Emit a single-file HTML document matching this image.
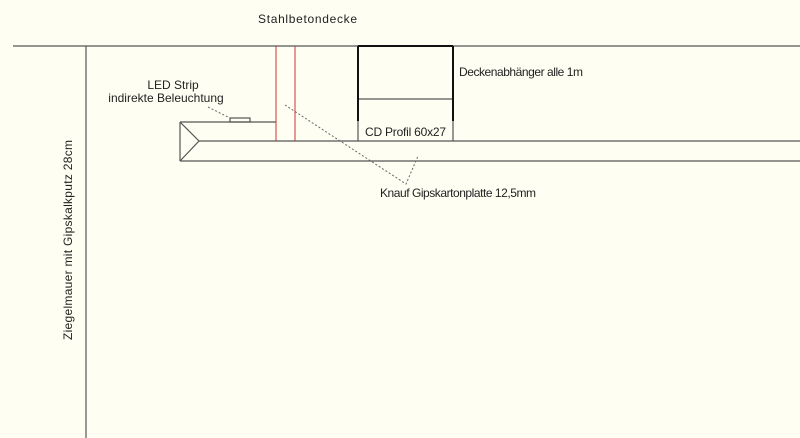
<!DOCTYPE html>
<html><head><meta charset="utf-8"><style>
html,body{margin:0;padding:0;background:#fffef3;}
svg{display:block}
text{font-family:"Liberation Sans",sans-serif;font-size:12px;fill:#222;}
</style></head><body>
<svg width="800" height="438" viewBox="0 0 800 438">
<rect width="800" height="438" fill="#fffef3"/>
<g stroke="#555" stroke-width="1.2" fill="none">
<line x1="13" y1="46" x2="800" y2="46"/>
<line x1="86" y1="46" x2="86" y2="438"/>
<line x1="180" y1="122" x2="276" y2="122"/>
<line x1="180" y1="122" x2="180" y2="161"/>
<polyline points="180,122 199,141 180,161"/>
<line x1="199" y1="141" x2="800" y2="141"/>
<line x1="180" y1="161" x2="800" y2="161"/>
<rect x="230" y="118" width="20" height="4"/>
<line x1="358" y1="99" x2="453" y2="99"/>
<line x1="358" y1="121" x2="358" y2="141"/>
<line x1="453" y1="121" x2="453" y2="141"/>
</g>
<g stroke="#c33" stroke-width="1" fill="none">
<line x1="276" y1="46" x2="276" y2="141"/>
<line x1="295" y1="46" x2="295" y2="141"/>
</g>
<g stroke="#111" stroke-width="2" fill="none">
<line x1="358" y1="46" x2="453" y2="46"/>
<line x1="358" y1="46" x2="358" y2="121"/>
<line x1="453" y1="46" x2="453" y2="121"/>
</g>
<g stroke="#666" stroke-width="1" stroke-dasharray="2,2" fill="none">
<line x1="208" y1="107" x2="230" y2="118"/>
<polyline points="285,105 406,184 418,156"/>
</g>
<text x="258" y="23" textLength="99">Stahlbetondecke</text>
<text x="459" y="76" textLength="124">Deckenabhänger alle 1m</text>
<text x="365" y="136" textLength="81">CD Profil 60x27</text>
<text x="173" y="89" text-anchor="middle">LED Strip</text>
<text x="166" y="102" text-anchor="middle">indirekte Beleuchtung</text>
<text x="380" y="197" textLength="156">Knauf Gipskartonplatte 12,5mm</text>
<text transform="translate(72,340) rotate(-90)" textLength="200">Ziegelmauer mit Gipskalkputz 28cm</text>
</svg>
</body></html>
